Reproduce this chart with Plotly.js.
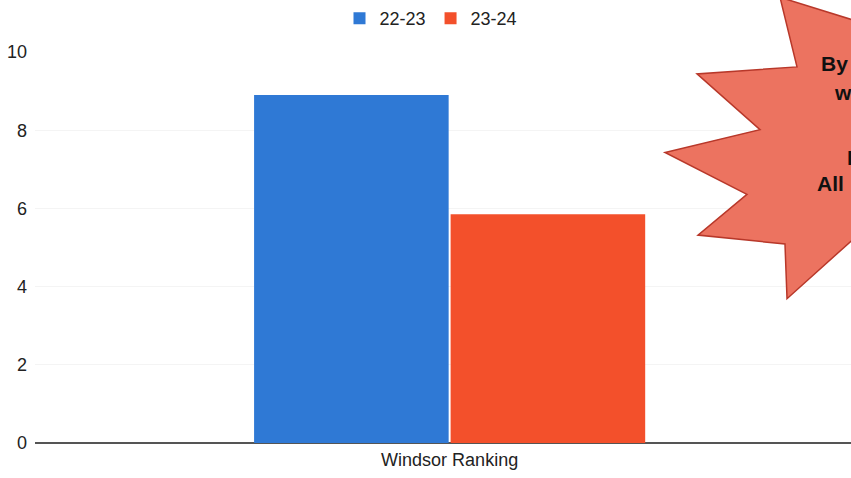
<!DOCTYPE html>
<html>
<head>
<meta charset="utf-8">
<script src="https://cdn.plot.ly/plotly-3.0.1.min.js"></script>
<style>html,body{margin:0;padding:0;background:#fff;}#chart{width:851px;height:478px;}</style>
</head>
<body>
<div id="chart"></div>
<script>
const categories = ["Windsor Ranking"];
const series2223 = [8.9];
const series2324 = [5.85];
const seriesNames = ["22-23", "23-24"];
const yTicks = [0, 2, 4, 6, 8, 10];
const starLines = ["By", "w", "I", "All"];

const W = 851, H = 478, L = 35, R = 0, T = 50, B = 35;
const pw = W - L - R, ph = H - T - B;
const px = x => (x - L) / pw;
const py = y => (H - B - y) / ph;

// star burst outline (pixel points, decoration)
const starPts = [[780,-5],[797,65],[697,72],[760,128],[665,151],[747,193],[698,234],[785,243],[787,298],[860,232],[860,20]];
const starPath = starPts.map((p,i)=>(i?'L':'M')+px(p[0]).toFixed(4)+','+py(p[1]).toFixed(4)).join(' ')+' Z';

const FAM = 'Liberation Sans, Arial, sans-serif';

const data = [
  {type:'bar', x:categories, y:series2223, name:seriesNames[0], marker:{color:'#2f79d5'}},
  {type:'bar', x:categories, y:series2324, name:seriesNames[1], marker:{color:'#f3502b'}}
];

const starY = [62, 91, 156, 182];
const starX = [819, 832, 845, 815];
const annotations = starLines.map((t,i)=>({
  text:'<b>'+t+'</b>', xref:'paper', yref:'paper', x:px(starX[i]), y:py(starY[i]),
  xanchor:'left', yanchor:'middle', showarrow:false,
  font:{family:FAM, size:21, color:'#111'}
}));

const layout = {
  width: W, height: H,
  margin: {l:L, r:R, t:T, b:B, pad:0},
  paper_bgcolor:'#fff', plot_bgcolor:'#fff',
  font: {family:FAM, size:18, color:'#222'},
  barmode:'group', bargap:0.526, bargroupgap:0.01,
  showlegend:true,
  legend:{orientation:'h', x:px(431), xanchor:'center', y:1+(T-16)/ph, yanchor:'middle',
          font:{family:FAM, size:18, color:'#222'}, traceorder:'normal', itemwidth:30},
  xaxis:{type:'category', range:[-0.5, 0.484], showgrid:false, showline:false, ticks:'', ticklabelstandoff:4,
         tickfont:{family:FAM, size:18, color:'#222'}, fixedrange:true},
  yaxis:{range:[0,10], tickvals:yTicks, ticktext:yTicks.map(String), showgrid:true, gridcolor:'#f4f4f4',
         zeroline:true, zerolinecolor:'#555', zerolinewidth:1.5, showline:false, ticks:'', ticklabelstandoff:7,
         tickfont:{family:FAM, size:18, color:'#222'}},
  shapes:[{type:'path', xref:'paper', yref:'paper', path:starPath, fillcolor:'#ec7360', line:{color:'#b8382a', width:1.5}, layer:'above'}],
  annotations: annotations
};

Plotly.newPlot('chart', data, layout, {displayModeBar:false, staticPlot:true});
</script>
</body>
</html>
